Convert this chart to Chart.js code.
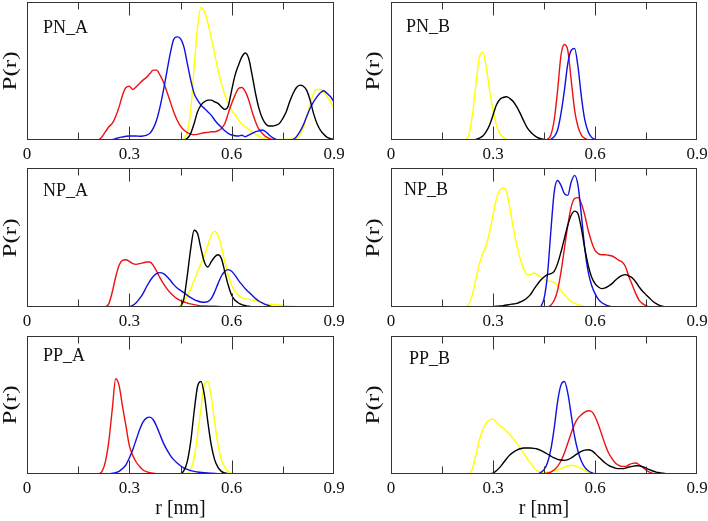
<!DOCTYPE html>
<html><head><meta charset="utf-8">
<script src="https://cdn.jsdelivr.net/npm/chart.js@4.4.1/dist/chart.umd.min.js"></script>
<style>
html,body{margin:0;padding:0;background:#fff;}
body{width:708px;height:521px;position:relative;overflow:hidden;}
canvas{position:absolute;}
.lbl{position:absolute;font-family:"Liberation Serif",serif;color:#111;white-space:nowrap;line-height:1;}
</style></head><body>
<script>
// ---------------- DATA (r in nm, P(r) in arbitrary units, 0..100 of panel height) -------------
const xMajorTicks = [0, 0.3, 0.6, 0.9];
const xMinorTicks = [0.15, 0.45, 0.75];
const xTickLabels = ['0', '0.3', '0.6', '0.9'];
const panelTitles = ['PN_A', 'PN_B', 'NP_A', 'NP_B', 'PP_A', 'PP_B'];
const yAxisTitle = 'P(r)';
const xAxisTitle = 'r [nm]';

const PN_A_red = [[0.21,0],[0.22,2.4],[0.23,6],[0.24,9.6],[0.25,12],[0.26,17],[0.27,24],[0.28,32.5],[0.29,38],[0.30,39],[0.31,36.6],[0.32,38.5],[0.33,41],[0.34,43.4],[0.35,45.3],[0.36,48],[0.37,50.6],[0.38,50.6],[0.39,47],[0.40,42],[0.41,35],[0.42,27.7],[0.43,20.5],[0.44,14.5],[0.45,10],[0.46,7.2],[0.47,5.3],[0.48,4.3],[0.49,3.9],[0.50,4.1],[0.51,4.8],[0.52,5.3],[0.53,5.5],[0.54,6],[0.55,6],[0.56,6.7],[0.57,8.4],[0.58,12],[0.59,19.3],[0.60,26.5],[0.61,32.5],[0.62,37.3],[0.63,38],[0.64,35],[0.65,29],[0.66,20.5],[0.67,13.3],[0.68,7.7],[0.69,4.8],[0.70,2.4],[0.71,1.2],[0.72,0]];
const PN_A_blue = [[0.245,0],[0.25,0.3],[0.26,1],[0.27,1.7],[0.28,2.2],[0.29,2.7],[0.30,2.9],[0.31,2.9],[0.32,2.9],[0.33,2.7],[0.34,2.9],[0.35,3.4],[0.36,4.8],[0.37,8.4],[0.38,14.5],[0.39,24],[0.40,36],[0.41,49.4],[0.42,62.7],[0.43,72.8],[0.44,74.7],[0.45,73.5],[0.46,67.5],[0.47,55.4],[0.48,43.4],[0.49,33.7],[0.50,28.9],[0.51,25.3],[0.52,22.9],[0.53,20.5],[0.54,18],[0.55,14.5],[0.56,11.6],[0.57,9.2],[0.58,6.7],[0.59,4.8],[0.60,3.6],[0.61,3.1],[0.62,2.9],[0.63,3.4],[0.64,2.4],[0.65,3.6],[0.66,4.8],[0.67,6],[0.68,6.7],[0.69,7.2],[0.70,6],[0.71,3.6],[0.72,1.7],[0.73,0.5],[0.74,0],[0.77,0],[0.78,0.5],[0.79,2.4],[0.80,6],[0.81,10.8],[0.82,17],[0.83,23],[0.84,27.7],[0.85,31.3],[0.86,34.2],[0.87,35.7],[0.88,33.7],[0.89,31.3],[0.90,27.7]];
const PN_A_yellow = [[0.45,0],[0.46,1.2],[0.47,6],[0.48,21.7],[0.49,53],[0.50,82],[0.51,96],[0.52,93],[0.53,85],[0.54,74],[0.55,62.7],[0.56,50.6],[0.57,41],[0.58,32.5],[0.59,26.5],[0.60,21.7],[0.61,18],[0.62,14.5],[0.63,11.6],[0.64,9.6],[0.65,7.7],[0.66,6],[0.67,4.1],[0.68,2.4],[0.69,1.4],[0.70,0.7],[0.72,0.4],[0.76,0.4],[0.78,0.5],[0.79,1.2],[0.80,3.6],[0.81,8.4],[0.82,17],[0.83,26.5],[0.84,33.7],[0.85,36.6],[0.86,36.6],[0.87,35],[0.88,31.3],[0.89,27.7],[0.90,22.9]];
const PN_A_black = [[0.46,0],[0.47,1.2],[0.48,4.8],[0.49,12],[0.50,20.5],[0.51,25.3],[0.52,27.7],[0.53,28.9],[0.54,28.9],[0.55,27.7],[0.56,26.5],[0.57,24],[0.58,22.2],[0.59,24.6],[0.60,36],[0.61,47],[0.62,54.2],[0.63,60.2],[0.64,63],[0.65,59],[0.66,47],[0.67,33.7],[0.68,22.9],[0.69,15.7],[0.70,11.6],[0.71,10.1],[0.72,10.1],[0.73,10.8],[0.74,12],[0.75,15.7],[0.76,20.5],[0.77,27.7],[0.78,33.7],[0.79,38],[0.80,39.8],[0.81,39],[0.82,36],[0.83,28.9],[0.84,19.3],[0.85,12],[0.86,7.2],[0.87,4.1],[0.88,1.9],[0.89,1],[0.90,0.5]];

const PN_B_red = [[0.455,0],[0.46,0.5],[0.47,3.6],[0.48,14.5],[0.49,36],[0.50,61.4],[0.51,69.2],[0.52,65],[0.53,43.4],[0.54,21.7],[0.55,9.6],[0.56,3.6],[0.57,1.2],[0.58,0]];
const PN_B_blue = [[0.465,0],[0.47,0.5],[0.48,2.4],[0.49,7.2],[0.50,19.3],[0.51,36],[0.52,55.4],[0.53,65],[0.54,66.3],[0.55,53],[0.56,31.3],[0.57,14.5],[0.58,6],[0.59,1.9],[0.60,0.5],[0.61,0]];
const PN_B_yellow = [[0.22,0],[0.23,4.8],[0.24,19.3],[0.25,41],[0.26,60],[0.27,63.5],[0.28,53],[0.29,36],[0.30,21.7],[0.31,10.8],[0.32,4.8],[0.33,1.9],[0.34,0.5],[0.35,0]];
const PN_B_black = [[0.24,0],[0.25,0.5],[0.26,1.4],[0.27,2.9],[0.28,6],[0.29,10.8],[0.30,18],[0.31,25.3],[0.32,29.4],[0.33,30.8],[0.34,31.3],[0.35,30],[0.36,27.7],[0.37,24],[0.38,19.3],[0.39,14],[0.40,9.2],[0.41,6],[0.42,3.6],[0.43,1.9],[0.44,1],[0.45,0.5],[0.46,0]];

const NP_A_red = [[0.23,0],[0.24,2.4],[0.25,10.8],[0.26,21.6],[0.27,30],[0.28,33.6],[0.29,34],[0.30,32.9],[0.31,31.2],[0.32,30.7],[0.33,31.2],[0.34,31.7],[0.35,32.4],[0.36,32.4],[0.37,30],[0.38,25.7],[0.39,20.9],[0.40,16.8],[0.41,13.2],[0.42,10.3],[0.43,7.9],[0.44,6],[0.45,4.6],[0.46,3.6],[0.47,2.9],[0.48,2.2],[0.49,1.7],[0.50,1.2],[0.52,0.7],[0.55,0.5],[0.58,0.2],[0.60,0]];
const NP_A_blue = [[0.30,0.2],[0.31,1.2],[0.32,3.1],[0.33,6],[0.34,9.6],[0.35,14.4],[0.36,18.7],[0.37,22],[0.38,24],[0.39,24.7],[0.40,24],[0.41,22],[0.42,19.2],[0.43,16.1],[0.44,13.7],[0.45,12],[0.46,10.3],[0.47,8.4],[0.48,6.7],[0.49,5.3],[0.50,4.3],[0.51,3.6],[0.52,3.4],[0.53,3.8],[0.54,6],[0.55,10.8],[0.56,16.8],[0.57,22.3],[0.58,25.7],[0.59,26.9],[0.60,25.7],[0.61,22.8],[0.62,19.2],[0.63,16.1],[0.64,13.2],[0.65,10.8],[0.66,8.4],[0.67,6],[0.68,4.3],[0.69,2.9],[0.70,1.7],[0.71,1],[0.72,0.2],[0.73,0]];
const NP_A_yellow = [[0.44,0],[0.45,1.2],[0.46,3.6],[0.47,8.4],[0.48,13.2],[0.49,19.2],[0.50,25.2],[0.51,31.2],[0.52,37.2],[0.53,44.4],[0.54,51.6],[0.55,54.4],[0.56,51.6],[0.57,43.2],[0.58,32.4],[0.59,22.8],[0.60,15.6],[0.61,11.3],[0.62,8.4],[0.63,6.7],[0.64,6],[0.65,5.5],[0.66,5],[0.67,4.6],[0.68,3.6],[0.69,2.9],[0.70,2.2],[0.71,1.9],[0.72,1.9],[0.73,1.7],[0.74,1.4],[0.75,1.2],[0.76,1],[0.77,0.7],[0.78,0.5],[0.79,0.2],[0.80,0]];
const NP_A_black = [[0.45,0],[0.46,6],[0.47,22.8],[0.48,42],[0.49,55.2],[0.50,52.8],[0.51,42],[0.52,32.4],[0.53,28.8],[0.54,32.4],[0.55,36],[0.56,37.6],[0.57,34.8],[0.58,25.2],[0.59,15.6],[0.60,8.4],[0.61,4.8],[0.62,2.9],[0.63,1.7],[0.64,1],[0.65,0.5],[0.66,0]];

const NP_B_red = [[0.46,0],[0.47,1.2],[0.48,4.8],[0.49,12],[0.50,25.2],[0.51,42],[0.52,58.8],[0.53,72],[0.54,78],[0.55,78.7],[0.56,74.3],[0.57,66],[0.58,55.2],[0.59,46.8],[0.60,40.8],[0.61,38.4],[0.62,37.6],[0.63,37.6],[0.64,37.2],[0.65,36.7],[0.66,35.3],[0.67,33.6],[0.68,32.4],[0.69,28.8],[0.70,21.6],[0.71,15.6],[0.72,9.6],[0.73,4.8],[0.74,2.4],[0.75,1],[0.76,0.2],[0.77,0]];
const NP_B_blue = [[0.44,0],[0.45,6],[0.46,22.8],[0.47,54],[0.48,82.7],[0.49,91],[0.50,87.5],[0.51,81.5],[0.52,80.3],[0.53,89.9],[0.54,94.7],[0.55,87.5],[0.56,66],[0.57,42],[0.58,25.2],[0.59,15.6],[0.60,9.6],[0.61,5.5],[0.62,3.1],[0.63,1.7],[0.64,0.7],[0.65,0]];
const NP_B_yellow = [[0.22,0],[0.23,2.4],[0.24,9.6],[0.25,20.4],[0.26,31.2],[0.27,38.4],[0.28,44.4],[0.29,54],[0.30,66],[0.31,78],[0.32,84],[0.33,85.6],[0.34,82.7],[0.35,70.7],[0.36,56.4],[0.37,44.4],[0.38,34.8],[0.39,27.6],[0.40,23.3],[0.41,23.3],[0.42,24.5],[0.43,23.3],[0.44,21.6],[0.45,19.9],[0.46,18.5],[0.47,18.5],[0.48,17.5],[0.49,15.1],[0.50,12],[0.51,8.9],[0.52,6],[0.53,4.1],[0.54,2.6],[0.55,1.7],[0.56,1],[0.57,0.2],[0.58,0]];
const NP_B_black = [[0.29,0],[0.30,0.2],[0.31,0.5],[0.32,0.7],[0.33,1],[0.34,1.4],[0.35,1.9],[0.36,2.2],[0.37,2.6],[0.38,3.6],[0.39,4.8],[0.40,6.5],[0.41,8.9],[0.42,12.7],[0.43,16.1],[0.44,19.2],[0.45,21.6],[0.46,23.3],[0.47,24],[0.48,25.7],[0.49,31.2],[0.50,39.6],[0.51,49.2],[0.52,58.8],[0.53,66],[0.54,69],[0.55,67.1],[0.56,56.4],[0.57,42],[0.58,30],[0.59,21.6],[0.60,16.8],[0.61,14.4],[0.62,13.2],[0.63,13.7],[0.64,15.1],[0.65,16.8],[0.66,19.2],[0.67,21.3],[0.68,22.8],[0.69,23.3],[0.70,22.3],[0.71,20.9],[0.72,18],[0.73,14.4],[0.74,11.3],[0.75,8.9],[0.76,6.5],[0.77,4.1],[0.78,2.4],[0.79,1.2],[0.80,0.5],[0.81,0]];

const PP_A_red = [[0.21,0],[0.22,1.9],[0.23,9.2],[0.24,24],[0.25,47],[0.26,69],[0.27,64],[0.28,49],[0.29,35],[0.30,20.5],[0.31,13.5],[0.32,8.7],[0.33,5.5],[0.34,2.9],[0.35,1.7],[0.36,1],[0.37,0.5],[0.38,0.2],[0.39,0]];
const PP_A_blue = [[0.24,0],[0.25,0.5],[0.26,1],[0.27,1.9],[0.28,3.9],[0.29,6.7],[0.30,11.6],[0.31,17.6],[0.32,24.8],[0.33,32],[0.34,37.6],[0.35,40.5],[0.36,41.2],[0.37,39.3],[0.38,34.5],[0.39,28.4],[0.40,22.4],[0.41,17.6],[0.42,13.5],[0.43,10.4],[0.44,8],[0.45,6],[0.46,4.3],[0.47,3.4],[0.48,2.4],[0.49,1.9],[0.50,1.4],[0.52,1],[0.54,0.5],[0.56,0.2],[0.57,0]];
const PP_A_yellow = [[0.47,0],[0.48,3.1],[0.49,11.6],[0.50,28.4],[0.51,47.7],[0.52,64.6],[0.53,67],[0.54,56.1],[0.55,38],[0.56,21.2],[0.57,10.4],[0.58,4.8],[0.59,1.9],[0.60,0.5],[0.61,0]];
const PP_A_black = [[0.45,0],[0.46,2.4],[0.47,9.2],[0.48,23.6],[0.49,45.3],[0.50,63.4],[0.51,67],[0.52,57.3],[0.53,38],[0.54,21.2],[0.55,10.4],[0.56,4.8],[0.57,1.9],[0.58,0.7],[0.59,0.2],[0.60,0]];

const PP_B_red = [[0.44,0],[0.45,0.2],[0.46,0.7],[0.47,1.4],[0.48,3.1],[0.49,5.5],[0.50,9.6],[0.51,15.2],[0.52,22.4],[0.53,29.6],[0.54,36.1],[0.55,40.5],[0.56,42.9],[0.57,44.8],[0.58,45.8],[0.59,45.3],[0.60,41.7],[0.61,35.7],[0.62,28.4],[0.63,21.2],[0.64,15.2],[0.65,11.1],[0.66,8],[0.67,6.3],[0.68,5.5],[0.69,5.5],[0.70,6.7],[0.71,7.7],[0.72,8],[0.73,6.7],[0.74,4.8],[0.75,2.9],[0.76,1.4],[0.77,0.5],[0.78,0]];
const PP_B_blue = [[0.43,0],[0.44,1],[0.45,3.1],[0.46,8],[0.47,17.6],[0.48,33.3],[0.49,52.5],[0.50,64.6],[0.51,67],[0.52,58.6],[0.53,42.9],[0.54,27.2],[0.55,16.4],[0.56,9.2],[0.57,4.8],[0.58,2.4],[0.59,1],[0.60,0.2],[0.61,0]];
const PP_B_yellow = [[0.23,0],[0.24,4.3],[0.25,14],[0.26,24.8],[0.27,32],[0.28,36.9],[0.29,39.3],[0.30,39.8],[0.31,37.6],[0.32,35.2],[0.33,33.3],[0.34,30.8],[0.35,28.4],[0.36,25.5],[0.37,22.4],[0.38,18.8],[0.39,15.2],[0.40,11.6],[0.41,8],[0.42,4.8],[0.43,2.4],[0.44,1.4],[0.45,1.2],[0.46,1.4],[0.47,1.9],[0.48,2.4],[0.49,3.1],[0.50,3.9],[0.51,4.8],[0.52,6],[0.53,6.3],[0.54,6],[0.55,5.1],[0.56,3.9],[0.57,2.4],[0.58,1.4],[0.59,0.7],[0.60,0.2],[0.61,0]];
const PP_B_black = [[0.29,0],[0.30,0.7],[0.31,2.4],[0.32,4.8],[0.33,8],[0.34,11.1],[0.35,14],[0.36,15.9],[0.37,17.3],[0.38,18.3],[0.39,18.8],[0.40,18.8],[0.41,18.8],[0.42,18.6],[0.43,18.1],[0.44,17.1],[0.45,15.9],[0.46,14.5],[0.47,13],[0.48,11.6],[0.49,10.6],[0.50,10.1],[0.51,9.9],[0.52,10.4],[0.53,11.6],[0.54,13.3],[0.55,14.9],[0.56,16.4],[0.57,17.3],[0.58,17.6],[0.59,16.9],[0.60,14.9],[0.61,12.5],[0.62,10.1],[0.63,8],[0.64,6.3],[0.65,5.1],[0.66,4.3],[0.67,3.9],[0.68,3.9],[0.69,4.3],[0.70,5.1],[0.71,5.5],[0.72,6],[0.73,6],[0.74,5.3],[0.75,4.3],[0.76,3.1],[0.77,2.2],[0.78,1.4],[0.79,1],[0.80,0.5],[0.81,0.2],[0.82,0]];

// ---------------- PRESENTATION -------------
const COLORS = {black:'#000000', blue:'#1010e0', red:'#ee1111', yellow:'#ffff00'};
const panelSeries = [
  {black:PN_A_black, blue:PN_A_blue, red:PN_A_red, yellow:PN_A_yellow},
  {black:PN_B_black, blue:PN_B_blue, red:PN_B_red, yellow:PN_B_yellow},
  {black:NP_A_black, blue:NP_A_blue, red:NP_A_red, yellow:NP_A_yellow},
  {black:NP_B_black, blue:NP_B_blue, red:NP_B_red, yellow:NP_B_yellow},
  {black:PP_A_black, blue:PP_A_blue, red:PP_A_red, yellow:PP_A_yellow},
  {black:PP_B_black, blue:PP_B_blue, red:PP_B_red, yellow:PP_B_yellow}
];
const cols = [
  {cLeft:0, cWidth:354, pLeft:27, pRight:334, yLabX:10},
  {cLeft:354, cWidth:354, pLeft:391, pRight:697, yLabX:373}
];
const rows = [
  {cTop:0, cHeight:166, pTop:2, pBottom:140},
  {cTop:166, cHeight:168, pTop:168, pBottom:307},
  {cTop:334, cHeight:187, pTop:336, pBottom:474}
];
const titlePos = [[43,33],[406,32],[43,195.5],[404,195],[43,361],[409,364]];

const allTicks = xMajorTicks.concat(xMinorTicks).sort((a,b)=>a-b);
function isMajor(v){ return xMajorTicks.some(m=>Math.abs(m-v)<1e-9); }

const framePlugin = {
  id:'frame',
  afterDraw(chart){
    const {ctx, chartArea:a, scales:{x}} = chart;
    ctx.save();
    ctx.strokeStyle = '#333'; ctx.lineWidth = 1;
    const L = Math.round(a.left)+0.5, R = Math.round(a.right)-0.5;
    const T = Math.round(a.top)+0.5, B = Math.round(a.bottom)-0.5;
    ctx.strokeRect(L, T, R-L, B-T);
    ctx.beginPath();
    x.ticks.forEach(t=>{
      const px = Math.round(x.getPixelForValue(t.value))+0.5;
      if (px <= L+1 || px >= R-1) return;
      const len = isMajor(t.value) ? 13 : 7;
      ctx.moveTo(px, B); ctx.lineTo(px, B-len);
      ctx.moveTo(px, T); ctx.lineTo(px, T+len);
    });
    ctx.stroke();
    ctx.restore();
  }
};

function addLabel(text, style){
  const d = document.createElement('div');
  d.className = 'lbl';
  d.textContent = text;
  Object.assign(d.style, style);
  document.body.appendChild(d);
  return d;
}

panelSeries.forEach((series, idx)=>{
  const col = cols[idx % 2], row = rows[Math.floor(idx/2)];
  const cv = document.createElement('canvas');
  cv.width = col.cWidth; cv.height = row.cHeight;
  cv.style.left = col.cLeft+'px'; cv.style.top = row.cTop+'px';
  document.body.appendChild(cv);
  const axisH = row.cTop + row.cHeight - row.pBottom;
  const order = ['black','blue','red','yellow'];
  new Chart(cv, {
    type:'line',
    data:{datasets: order.map(c=>({
      label:c,
      data: series[c].map(p=>({x:p[0], y:p[1]})),
      borderColor: COLORS[c], backgroundColor: COLORS[c],
      borderWidth: 1.4, pointRadius: 0, fill:false,
      cubicInterpolationMode:'monotone'
    }))},
    options:{
      responsive:false, animation:false, events:[], devicePixelRatio:1,
      layout:{padding:{left:col.pLeft-col.cLeft, right:col.cLeft+col.cWidth-col.pRight, top:row.pTop-row.cTop, bottom:0}},
      plugins:{legend:{display:false}, tooltip:{enabled:false}},
      scales:{
        x:{type:'linear', min:0, max:0.9,
           grid:{display:false}, border:{display:false},
           afterBuildTicks: s=>{ s.ticks = allTicks.map(v=>({value:v})); },
           afterFit: s=>{ s.height = axisH; },
           ticks:{autoSkip:false, maxRotation:0, minRotation:0, padding:-4, color:'#111',
                  font:{family:'Liberation Serif', size:17},
                  callback:(v)=>{ const i = xMajorTicks.findIndex(m=>Math.abs(m-v)<1e-9); return i>=0 ? xTickLabels[i] : ''; }}},
        y:{display:false, min:0, max:100}
      }
    },
    plugins:[framePlugin]
  });
  // panel title
  addLabel(panelTitles[idx], {left:titlePos[idx][0]+'px', top:(titlePos[idx][1]-15)+'px', fontSize:'18px'});
  // y axis title
  const cy = (row.pTop + row.pBottom)/2;
  addLabel(yAxisTitle, {left:col.yLabX+'px', top:cy+'px', fontSize:'18px',
    transform:'translate(-50%,-50%) rotate(-90deg) scale(1.4,1)'});
  // x axis title on bottom row
  if (Math.floor(idx/2) === 2){
    const cx = (col.pLeft + col.pRight)/2;
    addLabel(xAxisTitle, {left:(cx-60)+'px', width:'120px', textAlign:'center', top:'497px', fontSize:'20px'});
  }
});
</script>
</body></html>
